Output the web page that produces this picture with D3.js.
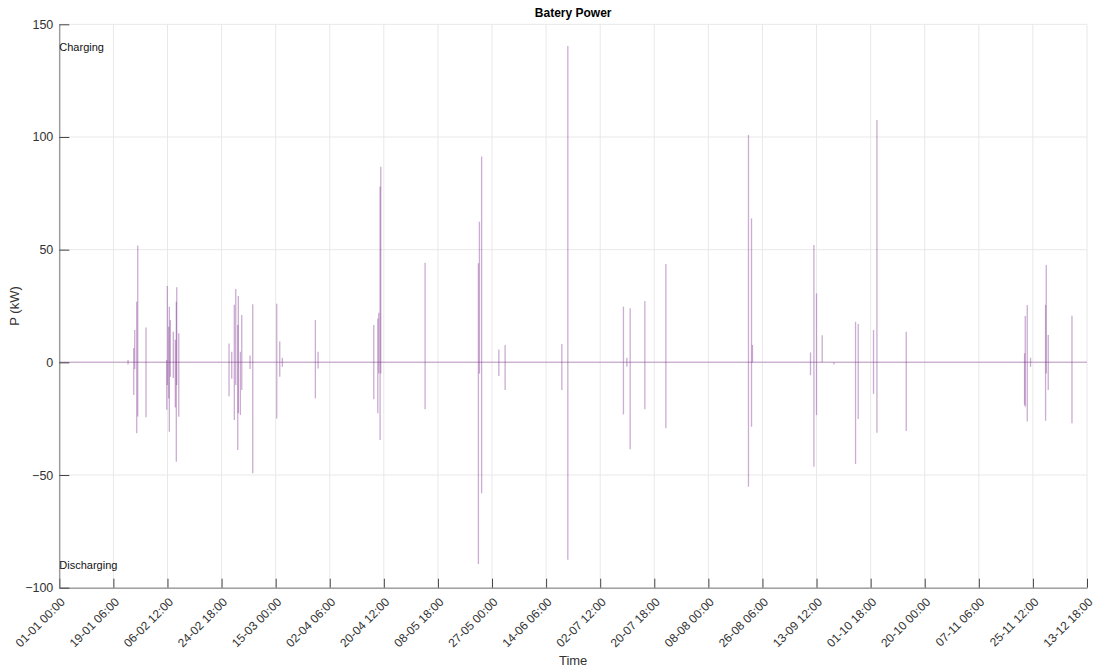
<!DOCTYPE html>
<html><head><meta charset="utf-8">
<script src="https://cdn.jsdelivr.net/npm/d3@7"></script>
<style>
html,body{margin:0;padding:0;background:#fff;}
svg{display:block;font-family:"Liberation Sans",Arial,Helvetica,sans-serif;}
</style></head>
<body>
<svg id="chart" width="1101" height="668"></svg>
<script>
// ---- data ----
const title = "Batery Power";
const xTickLabels = ["01-01 00:00","19-01 06:00","06-02 12:00","24-02 18:00","15-03 00:00","02-04 06:00",
  "20-04 12:00","08-05 18:00","27-05 00:00","14-06 06:00","02-07 12:00","20-07 18:00","08-08 00:00",
  "26-08 06:00","13-09 12:00","01-10 18:00","20-10 00:00","07-11 06:00","25-11 12:00","13-12 18:00"];
const yTicks = [-100, -50, 0, 50, 100, 150];
// event time in days since 01-01 00:00, and peak charge / discharge (kW)
const eventDay = [23.19,25.11,25.45,26.12,26.46,29.26,
  36.25,36.45,36.92,37.12,37.46,38.47,39.15,39.48,39.62,40.30,
  57.27,58.18,59.06,59.53,60.21,60.41,61.09,61.56,64.36,65.27,73.37,74.38,75.26,86.40,87.31,
  106.11,107.46,107.80,108.24,108.47,123.42,141.41,141.75,142.49,148.30,150.42,169.56,171.58,
  190.35,191.50,192.61,197.57,204.66,232.53,233.55,233.88,253.46,254.61,255.48,257.41,261.36,
  268.65,269.56,274.72,275.87,285.76,325.68,325.92,326.59,327.70,332.77,333.00,333.67,341.68];
const chargeKW = [1,6.4,14.4,26.9,51.8,15.5,
  1,33.9,15.8,24.7,18.8,13.6,10,26.9,33.3,12.9,
  8.4,4.7,25.5,32.5,16.6,29.4,4.7,21,3,25.8,26,9.2,2,18.8,4.7,
  16.6,19.5,22,78,86.8,44.2,44,62.4,91.3,5.7,7.7,8.1,140.4,
  24.7,2,24,27.2,43.6,100.9,63.9,7.7,4.4,52.1,30.6,12,0,
  18,17,14.4,107.5,13.6,4,20.6,25.4,2,25.5,43.2,12.1,20.7];
const dischargeKW = [-1,-14.5,-3,-31.5,-24,-24.4,
  -21,-10,-16,-30.8,-6.4,-7,-20,-44.1,-10,-24.1,
  -15,-7.3,-25.6,-10,-38.9,-22.5,-23.4,-12.3,-3,-49.2,-24.9,-6.4,-2,-16,-2.7,
  -16.4,-22.6,-5,-34.5,-5,-20.8,-89.5,-5,-58.1,-6.1,-12.3,-12.3,-87.6,
  -23.1,-2,-38.6,-20.8,-29.3,-55.2,-28.6,0,-5.7,-46.3,-23.4,0,-1,
  -45.1,-25.1,-14,-31.2,-30.5,-19,-19.7,-26.3,-2,-25.9,-5,-12.3,-27];

// ---- layout ----
const W = 1101, H = 668;
const m = {left: 59.3, right: 1087, top: 24.3, bottom: 587.7};
const svg = d3.select("#chart");
const parse = d3.utcParse("%d-%m %H:%M");
const fmt = d3.utcFormat("%d-%m %H:%M");
const tickDates = xTickLabels.map(parse);
const t0 = tickDates[0];
const x = d3.scaleUtc().domain([t0, tickDates[tickDates.length-1]]).range([m.left, m.right]);
const y = d3.scaleLinear().domain([-100, 150]).range([m.bottom, m.top]);
const dayToDate = d => new Date(t0.getTime() + d * 864e5);

// grid
const grid = svg.append("g");
grid.selectAll(".vg").data(tickDates).join("line")
  .attr("x1", d => x(d)).attr("x2", d => x(d)).attr("y1", m.top).attr("y2", m.bottom)
  .attr("stroke", "#e8e8e8").attr("stroke-width", 1);
grid.selectAll(".hg").data(yTicks).join("line")
  .attr("x1", m.left).attr("x2", m.right).attr("y1", d => y(d)).attr("y2", d => y(d))
  .attr("stroke", "#e8e8e8").attr("stroke-width", 1);

// baseline series (zero between events)
const line = d3.line().x(d => x(d[0])).y(d => y(d[1]));
const color = "#7E2F8E";
svg.append("path")
  .attr("d", line([[t0, 0], [tickDates[tickDates.length-1], 0]]))
  .attr("fill", "none").attr("stroke", color).attr("stroke-opacity", 0.3).attr("stroke-width", 1.5);

// spikes
svg.append("g").selectAll("path").data(eventDay).join("path")
  .attr("d", (d, i) => line([[dayToDate(d), dischargeKW[i]], [dayToDate(d), 0], [dayToDate(d), chargeKW[i]]]))
  .attr("fill", "none").attr("stroke", color).attr("stroke-opacity", 0.4).attr("stroke-width", 1.3);

// axes
const xAxis = d3.axisBottom(x).tickValues(tickDates).tickFormat(fmt).tickSizeInner(-9).tickSizeOuter(0).tickPadding(6);
const gx = svg.append("g").attr("transform", `translate(0,${m.bottom})`).call(xAxis);
gx.select(".domain").attr("stroke", "#7a7a7a");
gx.selectAll(".tick line").attr("stroke", "#444");
gx.selectAll("text")
  .attr("font-size", 12).attr("fill", "#333")
  .attr("text-anchor", "end")
  .attr("x", 0).attr("y", 0).attr("dy", "0.35em")
  .attr("transform", "translate(3,12) rotate(-45)");

const yAxis = d3.axisLeft(y).tickValues(yTicks).tickSizeInner(-10).tickSizeOuter(0).tickPadding(6);
const gy = svg.append("g").attr("transform", `translate(${m.left},0)`).call(yAxis);
gy.select(".domain").attr("stroke", "#7a7a7a");
gy.selectAll(".tick line").attr("stroke", "#444");
gy.selectAll("text").attr("font-size", 12.5).attr("fill", "#333");

// annotations
svg.append("text").attr("x", x(t0)).attr("y", y(140)).attr("dy", "0.35em")
  .attr("font-size", 11).attr("fill", "#111").text("Charging");
svg.append("text").attr("x", x(t0)).attr("y", y(-90)).attr("dy", "0.35em")
  .attr("font-size", 11).attr("fill", "#111").text("Discharging");

// titles
svg.append("text").attr("x", (m.left + m.right) / 2).attr("y", 17).attr("text-anchor", "middle")
  .attr("font-size", 12).attr("font-weight", "bold").attr("fill", "#000").text(title);
svg.append("text").attr("x", (m.left + m.right) / 2).attr("y", 665).attr("text-anchor", "middle")
  .attr("font-size", 13).attr("fill", "#333").text("Time");
svg.append("text").attr("transform", `translate(19,${(m.top + m.bottom) / 2}) rotate(-90)`)
  .attr("text-anchor", "middle").attr("font-size", 13).attr("fill", "#333").text("P (kW)");
</script>
</body></html>
